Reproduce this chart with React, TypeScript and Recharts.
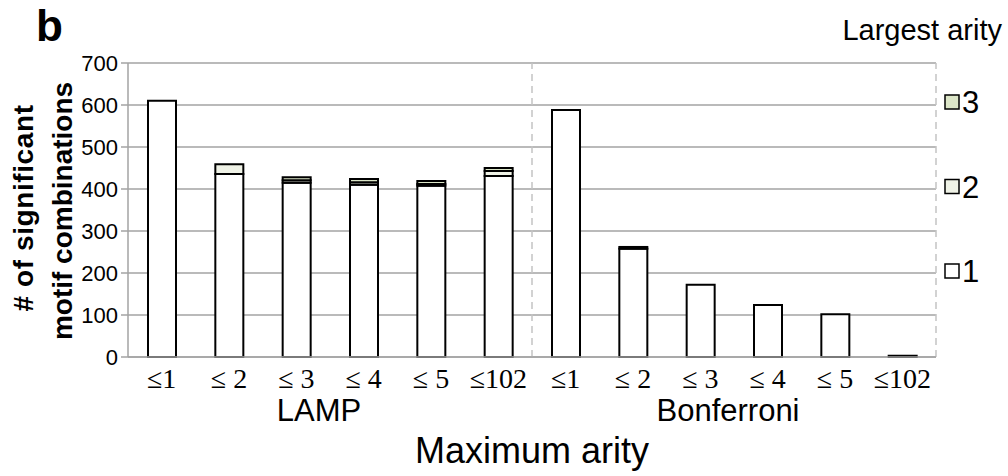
import { BarChart, Bar, XAxis, YAxis, CartesianGrid, ReferenceLine } from 'recharts';

const categories = ['≤1', '≤ 2', '≤ 3', '≤ 4', '≤ 5', '≤102', '≤1', '≤ 2', '≤ 3', '≤ 4', '≤ 5', '≤102'];
const groups = ['LAMP', 'LAMP', 'LAMP', 'LAMP', 'LAMP', 'LAMP', 'Bonferroni', 'Bonferroni', 'Bonferroni', 'Bonferroni', 'Bonferroni', 'Bonferroni'];
const arity1 = [610, 436, 415, 410, 408, 431, 588, 258, 172, 124, 102, 3];
const arity2 = [0, 23, 6, 6, 4, 12, 0, 0, 0, 0, 0, 0];
const arity3 = [0, 0, 7, 8, 7, 7, 0, 4, 0, 0, 0, 0];
const yTicks = [0, 100, 200, 300, 400, 500, 600, 700];

const series = [
  { key: 'a1', name: '1', fill: '#ffffff' },
  { key: 'a2', name: '2', fill: '#eff2e6' },
  { key: 'a3', name: '3', fill: '#dce6c8' },
];

const data = categories.map((c, i) => ({
  id: `${groups[i]}-${i}`,
  label: c,
  a1: arity1[i],
  a2: arity2[i],
  a3: arity3[i],
}));

const sans = '"Liberation Sans", Arial, Helvetica, sans-serif';
const serif = '"Liberation Serif", "Times New Roman", serif';

export default function App() {
  return (
    <div style={{ position: 'absolute', left: 0, top: 0, width: 1008, height: 476, background: '#fff' }}>
      <BarChart width={1008} height={476} data={data} margin={{ top: 63, right: 72, bottom: 0, left: 0 }}>
        <CartesianGrid vertical={false} stroke="#a3a3a3" strokeWidth={1.5} />
        <XAxis
          dataKey="id"
          height={119}
          tickFormatter={(_v, i) => categories[i]}
          tick={{ fontFamily: serif, fontSize: 28, fill: '#000' }}
          tickLine={false}
          tickSize={0}
          tickMargin={11}
          interval={0}
          axisLine={{ stroke: '#a3a3a3', strokeWidth: 1.5 }}
        />
        <YAxis
          width={128}
          domain={[0, 700]}
          ticks={yTicks}
          interval={0}
          tick={{ fontFamily: sans, fontSize: 22, fill: '#000' }}
          tickSize={7}
          tickMargin={3}
          tickLine={{ stroke: '#a3a3a3', strokeWidth: 1.5 }}
          axisLine={{ stroke: '#a3a3a3', strokeWidth: 1.5 }}
        />
        <ReferenceLine x={data[6].id} position="start" stroke="#c4c4c4" strokeWidth={1.5} strokeDasharray="7 5" />
        <ReferenceLine x={data[11].id} position="end" stroke="#c4c4c4" strokeWidth={1.5} strokeDasharray="7 5" />
        {series.map((s) => (
          <Bar
            key={s.key}
            dataKey={s.key}
            stackId="a"
            fill={s.fill}
            stroke="#000"
            strokeWidth={2}
            barSize={28}
            isAnimationActive={false}
          />
        ))}
      </BarChart>
      <svg width={1008} height={476} style={{ position: 'absolute', left: 0, top: 0, pointerEvents: 'none' }}>
        <text x={36} y={41} fontFamily={sans} fontWeight="bold" fontSize={44}>b</text>
        <text x={1002} y={40} textAnchor="end" fontFamily={sans} fontSize={29}>Largest arity</text>
        {[...series].reverse().map((s, i) => (
          <g key={s.key}>
            <rect x={945} y={95 + i * 84.5} width={14} height={14} fill={s.fill} stroke="#000" strokeWidth={1.5} />
            <text x={962} y={113 + i * 84.5} fontFamily={sans} fontSize={31}>{s.name}</text>
          </g>
        ))}
        <text x={319} y={421} textAnchor="middle" fontFamily={sans} fontSize={31}>LAMP</text>
        <text x={728} y={421} textAnchor="middle" fontFamily={sans} fontSize={31}>Bonferroni</text>
        <text x={532} y={463} textAnchor="middle" fontFamily={sans} fontSize={36}>Maximum arity</text>
        <text transform="translate(33,208) rotate(-90)" textAnchor="middle" fontFamily={sans} fontWeight="bold" fontSize={28} letterSpacing={0.6}>
          # of significant
        </text>
        <text transform="translate(72,211) rotate(-90)" textAnchor="middle" fontFamily={sans} fontWeight="bold" fontSize={28}>
          motif combinations
        </text>
      </svg>
    </div>
  );
}
